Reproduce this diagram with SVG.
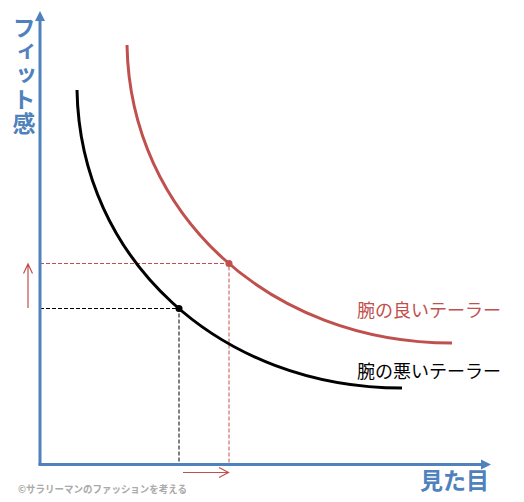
<svg xmlns="http://www.w3.org/2000/svg" width="524" height="502" viewBox="0 0 524 502">
<style>
.axis{stroke:#4F81BD;stroke-width:3;fill:none}
.axhead{fill:#4F81BD}
.axlabel{font-family:"Noto Sans CJK JP","Noto Sans",sans-serif;font-weight:bold;font-size:23px;fill:#4F81BD}
.curve{fill:none;stroke-width:3}
.dash{fill:none;stroke-width:1;stroke-dasharray:4 2}
.lbl{font-family:"Noto Sans CJK JP","Noto Sans",sans-serif;font-size:18px}
.arr{fill:none;stroke:#C0504D;stroke-width:1.2}
.credit{font-family:"Noto Sans CJK JP","Noto Sans",sans-serif;font-weight:bold;font-size:10px;fill:#AAAAAA}
</style>
<rect width="524" height="502" fill="#FFFFFF"/>
<g id="guides">
<path class="dash" stroke="#000000" d="M40,308.5 H179 V464"/>
<path class="dash" stroke="#C0504D" d="M40,263.5 H229 V464"/>
</g>
<g id="axes">
<path class="axis" d="M40,465 V19"/>
<polygon class="axhead" points="40,11 35,21 45,21"/>
<path class="axis" d="M38.5,464.5 H483"/>
<polygon class="axhead" points="491,464.5 481,459.5 481,469.5"/>
</g>
<g id="y-label">
<text class="axlabel" x="24" y="16" style="writing-mode:vertical-rl;letter-spacing:1px">フィット感</text>
</g>
<g id="x-label">
<text class="axlabel" x="489" y="489" text-anchor="end">見た目</text>
</g>
<g id="connectors">
<path class="curve" stroke="#C0504D" d="M127,45 C130,215 270,343 452,343"/>
<path class="curve" stroke="#000000" d="M77,90 C80,260 220,388 402,388"/>
<path class="arr" d="M28,308 V264 M23.5,273.5 L28,264 L32.5,273.5"/>
<path class="arr" d="M183,472.5 H228.5 M219,467.5 L228.5,472.5 L219,477.5"/>
</g>
<g id="good-tailor">
<circle cx="229" cy="263.5" r="3.5" fill="#C0504D"/>
<text class="lbl" x="357" y="317" fill="#C0504D">腕の良いテーラー</text>
</g>
<g id="bad-tailor">
<circle cx="179" cy="308.5" r="3.5" fill="#000000"/>
<text class="lbl" x="357" y="378" fill="#000000">腕の悪いテーラー</text>
</g>
<text class="credit" x="18" y="493" textLength="169" lengthAdjust="spacingAndGlyphs">©サラリーマンのファッションを考える</text>
</svg>
